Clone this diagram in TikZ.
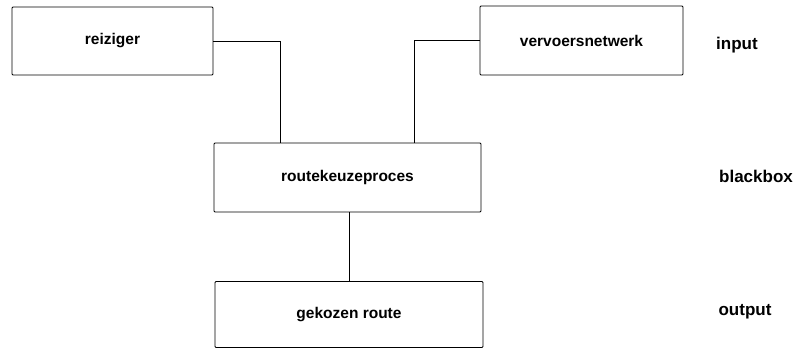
\documentclass[tikz,border=0pt]{standalone}
\usepackage{fontspec}
\setmainfont{Liberation Sans}
\begin{document}
\begin{tikzpicture}[x=1pt,y=-1pt,
  box/.style={draw, line width=0.9pt, rounded corners=1pt, inner sep=0pt,
    font=\fontsize{15.5}{19}\selectfont\bfseries},
  lbl/.style={font=\fontsize{17}{20}\selectfont\bfseries, inner sep=0pt},
  conn/.style={line width=1pt}]
\useasboundingbox (0,0) rectangle (797,349);
\fill[white] (0,0) rectangle (797,349);
\node[box, minimum width=201pt, minimum height=68pt] (rz) at (112.5,41) {reiziger};
\node[box, minimum width=203pt, minimum height=69pt] (vn) at (581.5,40.5) {vervoersnetwerk};
\node[box, minimum width=267pt, minimum height=69pt] (rk) at (347.5,177.5) {routekeuzeproces};
\node[box, minimum width=268pt, minimum height=66pt] (gr) at (349,314.5) {gekozen route};
\node[lbl] (in) at (737,45) {input};
\node[lbl] (bb) at (756,176) {blackbox};
\node[lbl] (out) at (745,312) {output};
\coordinate (c1) at (280,143);
\coordinate (c2) at (414,143);
\draw[conn] (rz.east) -| (c1);
\draw[conn] (vn.west) -| (c2);
\draw[conn] (gr.north |- rk.south) -- (gr.north);
\end{tikzpicture}
\end{document}
